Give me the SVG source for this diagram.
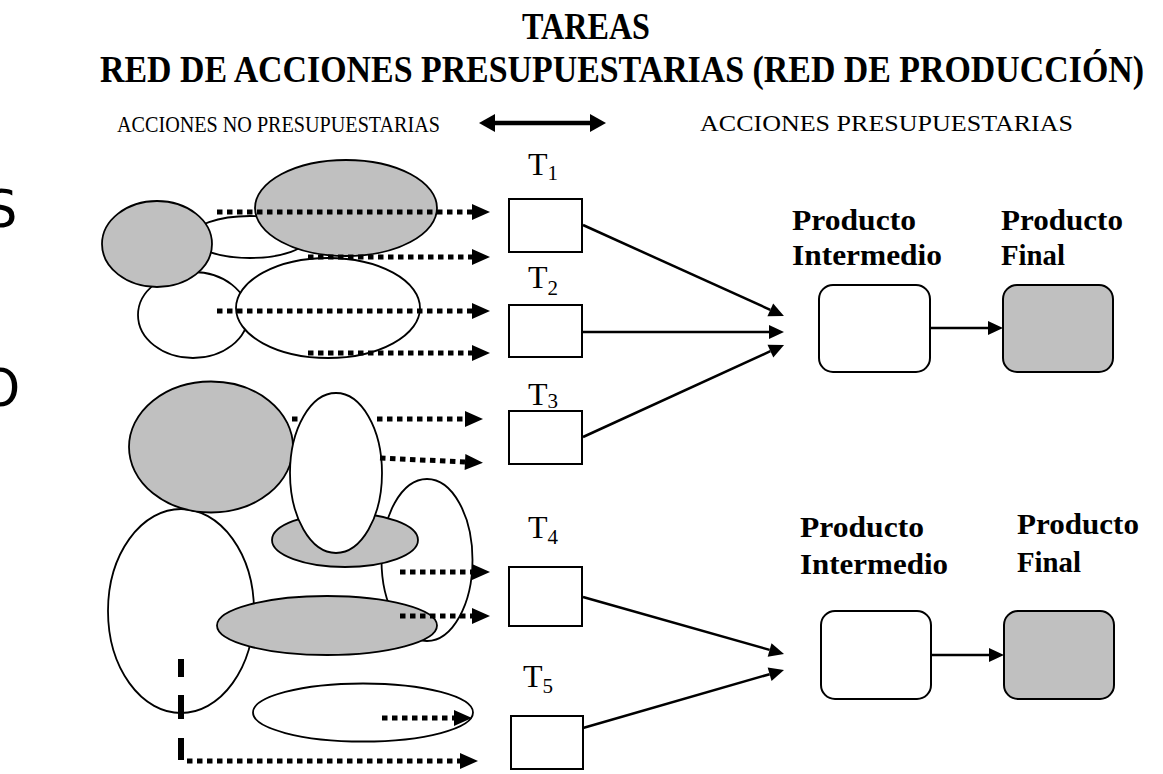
<svg xmlns="http://www.w3.org/2000/svg" width="1163" height="774" viewBox="0 0 1163 774">
<style>
.title{font-family:"Liberation Serif","Times New Roman",serif;font-weight:bold;font-size:37px;fill:#000}
.sub{font-family:"Liberation Serif","Times New Roman",serif;font-size:23px;fill:#000}
.lbl{font-family:"Liberation Serif","Times New Roman",serif;font-weight:bold;font-size:29px;fill:#000}
.t{font-family:"Liberation Serif","Times New Roman",serif;font-size:32px;fill:#000}
.ts{font-size:21px}
.edge{font-family:"DejaVu Sans",sans-serif;font-size:51px;fill:#000}
.ew{fill:#fff;stroke:#000;stroke-width:1.8}
.eg{fill:#c0c0c0;stroke:#000;stroke-width:1.8}
.task{fill:#fff;stroke:#000;stroke-width:2}
.prodw{fill:#fff;stroke:#000;stroke-width:2}
.prodg{fill:#c0c0c0;stroke:#000;stroke-width:2}
.dot{fill:none;stroke:#000;stroke-width:5;stroke-dasharray:5.5 4.5}
.solid{fill:none;stroke:#000;stroke-width:2.5}
</style>
<defs>
<marker id="hd" markerUnits="userSpaceOnUse" markerWidth="18" markerHeight="16" refX="0" refY="8" orient="auto" overflow="visible">
<path d="M0,0 L18,8 L0,16 z" fill="#000"/>
</marker>
<marker id="hs" markerUnits="userSpaceOnUse" markerWidth="15" markerHeight="14" refX="0" refY="7" orient="auto" overflow="visible">
<path d="M0,0 L15,7 L0,14 z" fill="#000"/>
</marker>
<marker id="hb" markerUnits="userSpaceOnUse" markerWidth="16" markerHeight="18" refX="0" refY="9" orient="auto-start-reverse" overflow="visible">
<path d="M0,0 L16,9 L0,18 z" fill="#000"/>
</marker>
</defs>

<g id="titles">
<text class="title" x="586" y="39" text-anchor="middle" textLength="128" lengthAdjust="spacingAndGlyphs">TAREAS</text>
<text class="title" x="100" y="82" textLength="1044" lengthAdjust="spacingAndGlyphs">RED DE ACCIONES PRESUPUESTARIAS (RED DE PRODUCCIÓN)</text>
<text class="sub" x="117" y="132" textLength="323" lengthAdjust="spacingAndGlyphs">ACCIONES NO PRESUPUESTARIAS</text>
<text class="sub" x="700" y="131" textLength="373" lengthAdjust="spacingAndGlyphs">ACCIONES PRESUPUESTARIAS</text>
<text class="edge" x="-15" y="227">S</text>
<text class="edge" x="-20" y="406">O</text>
</g>

<g id="double-arrow">
<path d="M495,123 L590,123" fill="none" stroke="#000" stroke-width="4.5" marker-start="url(#hb)" marker-end="url(#hb)"/>
</g>

<g id="cluster-top">
<ellipse class="ew" cx="193" cy="315" rx="55" ry="43"/>
<ellipse class="ew" cx="250" cy="237" rx="58" ry="21"/>
<ellipse class="eg" cx="157" cy="244" rx="55" ry="43"/>
<ellipse class="eg" cx="346" cy="208" rx="91" ry="48"/>
<ellipse class="ew" cx="328" cy="308" rx="92" ry="50"/>
</g>

<g id="cluster-bottom">
<ellipse class="ew" cx="181" cy="611" rx="73" ry="102"/>
<ellipse class="eg" cx="211" cy="447" rx="82" ry="65.5"/>
<ellipse class="ew" cx="427" cy="560" rx="45.5" ry="81"/>
<ellipse class="eg" cx="345" cy="540" rx="73" ry="27"/>
<ellipse class="ew" cx="336" cy="473" rx="46" ry="80"/>
<ellipse class="eg" cx="327" cy="625.5" rx="110" ry="29.5"/>
<ellipse class="ew" cx="363" cy="712.5" rx="110" ry="29"/>
</g>

<g id="T1">
<text class="t" x="528" y="175">T<tspan class="ts" dy="5">1</tspan></text>
<rect class="task" x="509" y="199" width="73" height="53"/>
</g>
<g id="T2">
<text class="t" x="528" y="288">T<tspan class="ts" dy="7">2</tspan></text>
<rect class="task" x="509" y="305" width="73" height="52"/>
</g>
<g id="T3">
<text class="t" x="528" y="405">T<tspan class="ts" dy="3">3</tspan></text>
<rect class="task" x="509" y="411" width="73" height="53"/>
</g>
<g id="T4">
<text class="t" x="528" y="538">T<tspan class="ts" dy="6">4</tspan></text>
<rect class="task" x="509" y="567" width="73" height="59"/>
</g>
<g id="T5">
<text class="t" x="523" y="687">T<tspan class="ts" dy="6">5</tspan></text>
<rect class="task" x="511" y="716" width="72" height="53"/>
</g>

<g id="intermedio-1">
<text class="lbl" x="792" y="230" textLength="124" lengthAdjust="spacingAndGlyphs">Producto</text>
<text class="lbl" x="792" y="265" textLength="150" lengthAdjust="spacingAndGlyphs">Intermedio</text>
<rect class="prodw" x="819" y="285" width="111" height="87" rx="14"/>
</g>
<g id="final-1">
<text class="lbl" x="1001" y="230" textLength="122" lengthAdjust="spacingAndGlyphs">Producto</text>
<text class="lbl" x="1001" y="265" textLength="64" lengthAdjust="spacingAndGlyphs">Final</text>
<rect class="prodg" x="1003" y="285" width="110" height="87" rx="14"/>
</g>
<g id="intermedio-2">
<text class="lbl" x="800" y="537" textLength="124" lengthAdjust="spacingAndGlyphs">Producto</text>
<text class="lbl" x="800" y="574" textLength="148" lengthAdjust="spacingAndGlyphs">Intermedio</text>
<rect class="prodw" x="821" y="611" width="110" height="88" rx="14"/>
</g>
<g id="final-2">
<text class="lbl" x="1017" y="534" textLength="122" lengthAdjust="spacingAndGlyphs">Producto</text>
<text class="lbl" x="1017" y="572" textLength="64" lengthAdjust="spacingAndGlyphs">Final</text>
<rect class="prodg" x="1004" y="611" width="110" height="88" rx="14"/>
</g>

<g id="connectors">
<path class="dot" d="M217,212 L472,212" marker-end="url(#hd)"/>
<path class="dot" d="M308,257 L472,257" marker-end="url(#hd)"/>
<path class="dot" d="M217,311 L472,311" marker-end="url(#hd)"/>
<path class="dot" d="M308,353 L472,353" marker-end="url(#hd)"/>
<path class="dot" d="M292,419 L298,419" />
<path class="dot" d="M377,419 L465,419" marker-end="url(#hd)"/>
<path class="dot" d="M380,458 L465,462" marker-end="url(#hd)"/>
<path class="dot" d="M400,572 L472,572" marker-end="url(#hd)"/>
<path class="dot" d="M400,616 L472,616" marker-end="url(#hd)"/>
<path class="dot" d="M382,718 L454,718" marker-end="url(#hd)"/>
<path d="M181,659 V677 M181,695 V719 M181,738 V760" fill="none" stroke="#000" stroke-width="6"/>
<path class="dot" d="M187,761 L460,761" marker-end="url(#hd)"/>
<path class="solid" d="M583,225 L770.3,309.8" marker-end="url(#hs)"/>
<path class="solid" d="M583,332 L769,332" marker-end="url(#hs)"/>
<path class="solid" d="M583,437 L770.4,351.2" marker-end="url(#hs)"/>
<path class="solid" d="M583,597 L769.6,649.9" marker-end="url(#hs)"/>
<path class="solid" d="M583,728 L769.6,674.2" marker-end="url(#hs)"/>
<path class="solid" d="M930,328 L988,328" marker-end="url(#hs)"/>
<path class="solid" d="M931,655 L989,655" marker-end="url(#hs)"/>
</g>
</svg>
